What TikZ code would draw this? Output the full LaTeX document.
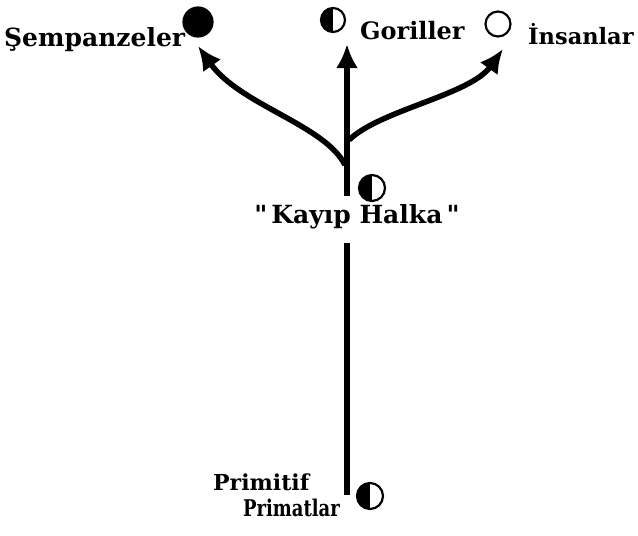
\documentclass[tikz,border=0pt]{standalone}
\usepackage{fontspec}
\setmainfont{DejaVu Serif}
\newfontfamily\qfont{DejaVu Serif}[Ligatures=TeXOff]
\usetikzlibrary{arrows.meta}
\begin{document}
\begin{tikzpicture}[x=1pt,y=-1pt,
  lbl/.style={font=\bfseries\fontsize{#1}{#1}\selectfont, inner sep=0pt},
  dot/.style={circle, draw, line width=2.2pt, minimum size=#1, inner sep=0pt},
  fulldot/.style={dot=#1, fill=black},
  halfdot/.style={dot=#1, path picture={\fill[black] (path picture bounding box.north) rectangle (path picture bounding box.south west);}},
  branch/.style={line width=5.5pt, -{Latex[length=24pt,width=22pt]}},
  stem/.style={line width=5.5pt}]
\useasboundingbox (0,0) rectangle (638,536);
% markers
\node[fulldot=29pt] (chimp) at (198,22) {};
\node[halfdot=24pt] (gor) at (333,20) {};
\node[dot=25pt] (hum) at (498,24) {};
\node[halfdot=26pt] (link) at (372,188) {};
\node[halfdot=26pt] (prim) at (370,496) {};
% labels
\node[lbl=25, anchor=base west] (tchimp) at (4,46) {Şempanzeler};
\node[lbl=24, anchor=base west] (tgor) at (360,39) {Goriller};
\node[lbl=22.5, anchor=base west] (thum) at (528,44) {İnsanlar};
\node[lbl=25, anchor=base] (tlink) at (357,223) {{\qfont\bfseries"}\,Kayıp Halka\,{\qfont\bfseries"}};
\node[lbl=22, anchor=base west] (tprim1) at (213,490) {Primitif};
\node[lbl=23, anchor=base west] (tprim2) at (243,516) {\scalebox{0.78}[1]{Primatlar}};
% trunk coordinates
\coordinate (bot) at (347,495);
\coordinate (lowtop) at (347,243);
\coordinate (uppbot) at (347,196);
\coordinate (jl) at (345,165);
\coordinate (jr) at (349,140);
\coordinate (tipc) at (198,46);
\coordinate (tipg) at (347,44);
\coordinate (tiph) at (503,49);
% connectors
\draw[stem] (bot) -- (lowtop);
\draw[branch] (uppbot) -- (tipg);
\draw[branch] (jl) .. controls (325,125) and (240,105) .. (tipc);
\draw[branch] (jr) .. controls (380,110) and (470,95) .. (tiph);
\end{tikzpicture}
\end{document}
